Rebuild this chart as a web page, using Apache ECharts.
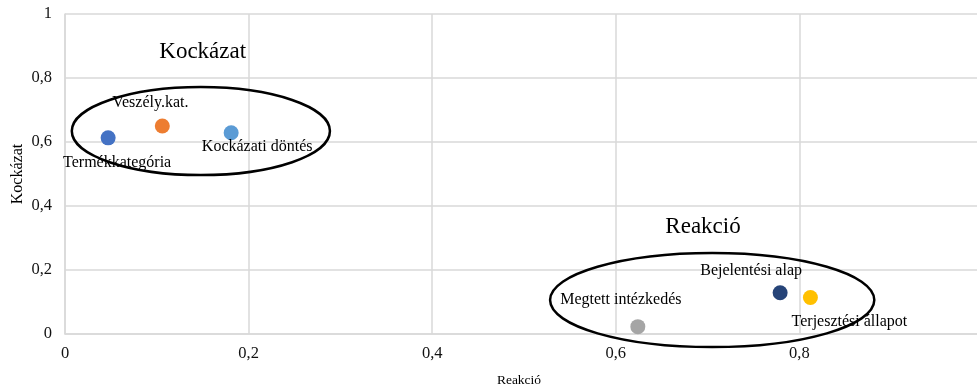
<!DOCTYPE html>
<html>
<head>
<meta charset="utf-8">
<script src="https://cdn.jsdelivr.net/npm/echarts@6/dist/echarts.min.js"></script>
<style>
  html, body { margin: 0; padding: 0; background: #fff; }
  #chart { width: 977px; height: 389px; }
</style>
</head>
<body>
<div id="chart"></div>
<script>
// Reaction (x) vs. risk (y) for each attribute
const names = ['Termékkategória', 'Veszély.kat.', 'Kockázati döntés', 'Megtett intézkedés', 'Bejelentési alap', 'Terjesztési állapot'];
const reakcio = [0.047, 0.106, 0.181, 0.624, 0.779, 0.812];
const kockazat = [0.613, 0.650, 0.629, 0.023, 0.129, 0.114];
const colors = ['#4472C4', '#ED7D31', '#5B9BD5', '#A5A5A5', '#264478', '#FFC000'];
const xTicks = [0, 0.2, 0.4, 0.6, 0.8];
const yTicks = [0, 0.2, 0.4, 0.6, 0.8, 1];

// Group outlines: centre and radii in axis units
const groups = [
  { title: 'Kockázat', cx: 0.148, cy: 0.634, rx: 0.1406, ry: 0.1375, tx: 0.150, ty: 0.880 },
  { title: 'Reakció', cx: 0.705, cy: 0.106, rx: 0.1766, ry: 0.147, tx: 0.695, ty: 0.334 }
];

const serif = '"Liberation Serif", "Times New Roman", serif';
const fmt = v => String(v).replace('.', ',');

const markerSize = 15;
// label centre relative to the point centre, in px
const labelOffsets = [[9, 25], [-12, -23], [26, 14], [-17, -27], [-29, -22], [39, 24]];

const chart = echarts.init(document.getElementById('chart'), null, { renderer: 'canvas' });

const seriesData = names.map((n, i) => ({
  name: n,
  value: [reakcio[i], kockazat[i]],
  itemStyle: { color: colors[i], opacity: 1 },
  label: {
    show: true,
    formatter: n,
    position: [markerSize / 2 + labelOffsets[i][0], markerSize / 2 + labelOffsets[i][1]],
    align: 'center',
    verticalAlign: 'middle',
    color: '#000',
    fontFamily: serif,
    fontSize: 16
  }
}));

chart.setOption({
  animation: false,
  backgroundColor: '#fff',
  grid: { left: 65, right: -6, top: 14, bottom: 55, outerBoundsMode: 'none', containLabel: false },
  xAxis: {
    type: 'value', min: 0, max: 1, interval: 0.2,
    name: 'Reakció', nameLocation: 'middle', nameGap: 39, nameMoveOverlap: false,
    nameTextStyle: { fontFamily: serif, fontSize: 13.5, color: '#000', padding: [0, 10, 0, 0] },
    axisLine: { show: true, lineStyle: { color: '#d9d9d9', width: 1.5 } },
    axisTick: { show: false },
    axisLabel: { fontFamily: serif, fontSize: 16.5, color: '#111', margin: 11,
      formatter: v => xTicks.includes(+v.toFixed(1)) ? fmt(+v.toFixed(1)) : '' },
    splitLine: { show: true, lineStyle: { color: '#d9d9d9', width: 1.5 } }
  },
  yAxis: {
    type: 'value', min: 0, max: 1, interval: 0.2,
    name: 'Kockázat', nameLocation: 'middle', nameGap: 39, nameMoveOverlap: false,
    nameTextStyle: { fontFamily: serif, fontSize: 16, color: '#000' },
    axisLine: { show: true, lineStyle: { color: '#d9d9d9', width: 1.5 } },
    axisTick: { show: false },
    axisLabel: { fontFamily: serif, fontSize: 16.5, color: '#111', margin: 13,
      formatter: v => yTicks.includes(+v.toFixed(1)) ? fmt(+v.toFixed(1)) : '' },
    splitLine: { show: true, lineStyle: { color: '#d9d9d9', width: 1.5 } }
  },
  series: [{
    type: 'scatter',
    symbol: 'circle',
    symbolSize: markerSize,
    data: seriesData,
    emphasis: { disabled: true },
    labelLayout: { hideOverlap: false }
  }]
});

// Outline each group and put its heading above it
function drawGroups() {
  const elems = [];
  groups.forEach(g => {
    const c = chart.convertToPixel({ gridIndex: 0 }, [g.cx, g.cy]);
    const e = chart.convertToPixel({ gridIndex: 0 }, [g.cx + g.rx, g.cy + g.ry]);
    const t = chart.convertToPixel({ gridIndex: 0 }, [g.tx, g.ty]);
    elems.push({
      type: 'ellipse',
      shape: { cx: c[0], cy: c[1], rx: Math.abs(e[0] - c[0]), ry: Math.abs(c[1] - e[1]) },
      style: { fill: null, stroke: '#000', lineWidth: 2.5 },
      z: 5
    });
    elems.push({
      type: 'text',
      x: t[0], y: t[1],
      style: { text: g.title, font: '23px ' + serif, fill: '#000', align: 'center', verticalAlign: 'middle' },
      z: 5
    });
  });
  chart.setOption({ graphic: elems });
}
drawGroups();
</script>
</body>
</html>
